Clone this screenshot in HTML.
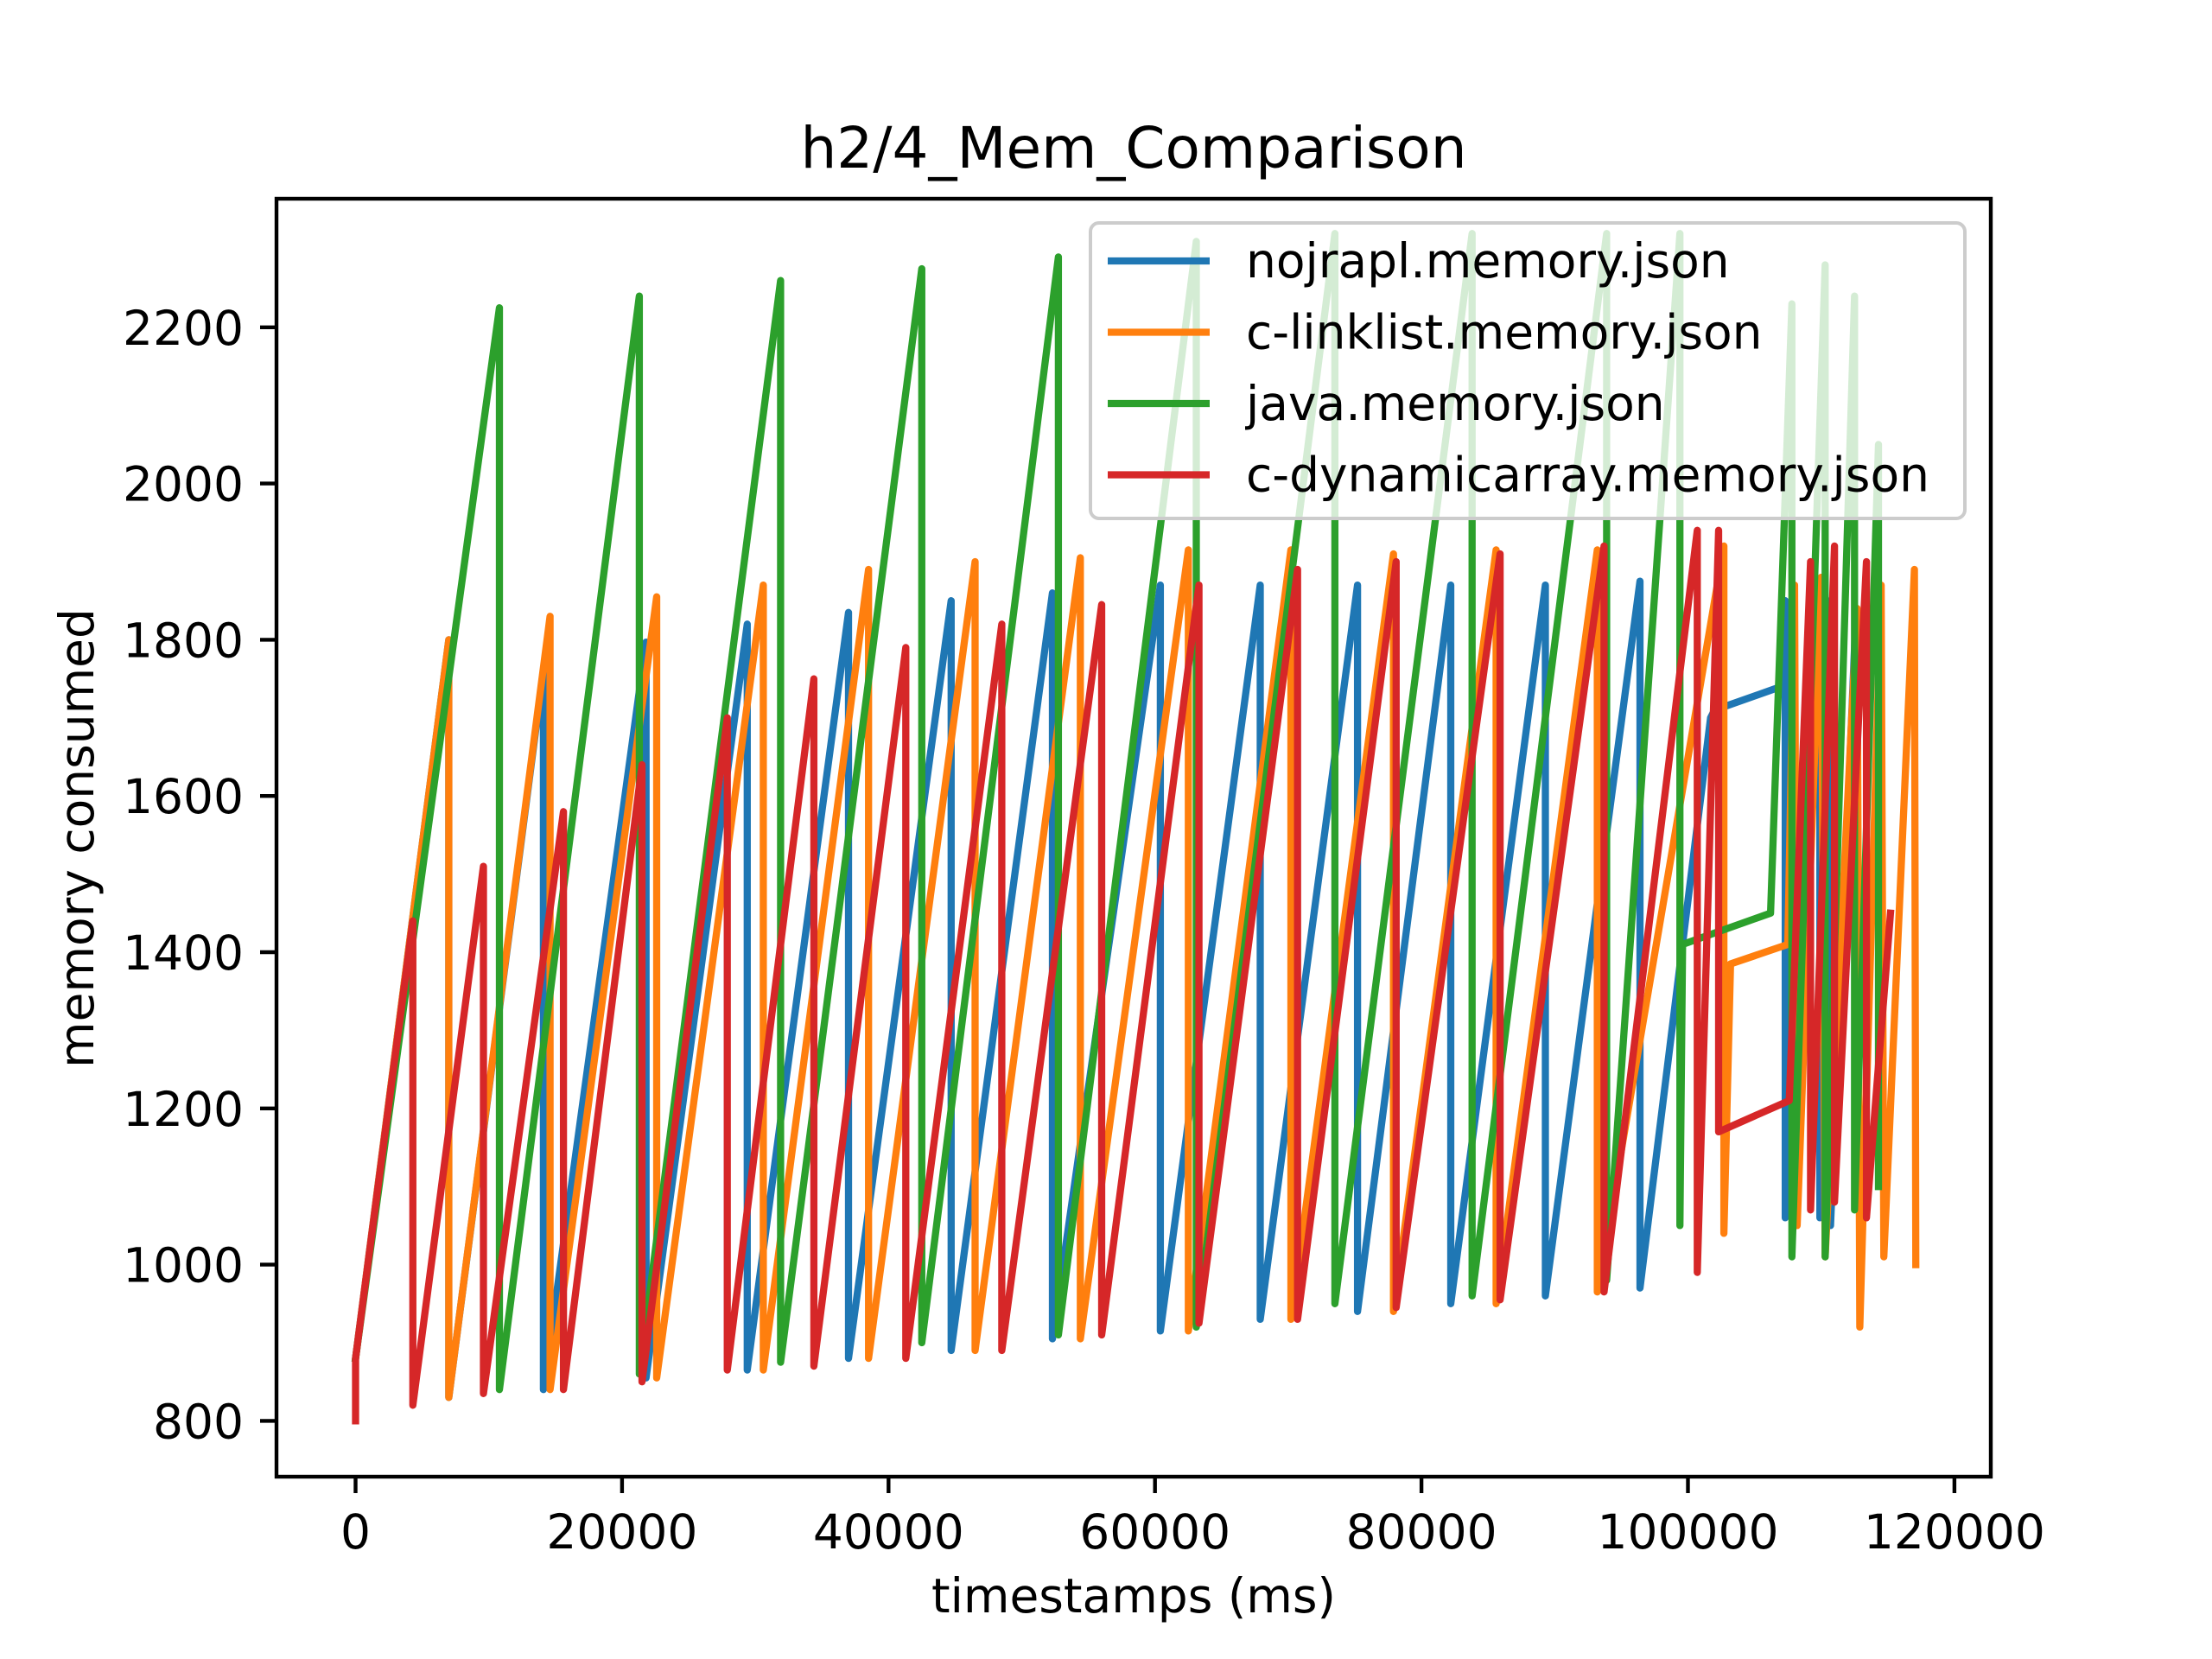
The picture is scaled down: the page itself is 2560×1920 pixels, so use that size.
<!DOCTYPE html>
<html><head><meta charset="utf-8"><style>
body{margin:0;background:#fff;}
svg{display:block;font-family:"DejaVu Sans","Liberation Sans",sans-serif;}
</style></head><body>
<svg id="chart" width="2560" height="1920" viewBox="0 0 2560 1920">
<defs><clipPath id="plotclip"><rect x="320" y="230" width="1984" height="1479"/></clipPath></defs>
<rect width="2560" height="1920" fill="#fff"/>
<text x="1312" y="194" font-size="66" text-anchor="middle">h2/4_Mem_Comparison</text>
<g id="series" clip-path="url(#plotclip)"></g>
<rect x="320" y="230" width="1984" height="1479" fill="none" stroke="#000" stroke-width="4.4"/>
<g id="xticks"></g>
<g id="yticks"></g>
<text x="1312" y="1866" font-size="55" text-anchor="middle">timestamps (ms)</text>
<text x="0" y="0" font-size="55" text-anchor="middle" transform="translate(108,970) rotate(-90)">memory consumed</text>
<g id="legend">
<rect x="1262" y="258" width="1012" height="342" rx="10" fill="#fff" fill-opacity="0.8" stroke="#ccc" stroke-width="4"/>
</g>
</svg>
<script>
const seriesNames = ["nojrapl.memory.json","c-linklist.memory.json","java.memory.json","c-dynamicarray.memory.json"];
const seriesColors = ["#1f77b4","#ff7f0e","#2ca02c","#d62728"];
const xTicks = [0,20000,40000,60000,80000,100000,120000];
const yTicks = [800,1000,1200,1400,1600,1800,2000,2200];
const nojrapl = [[0,880],[7000,1800],[7000,830],[14100,1760],[14100,840],[21800,1797],[21800,855],[29400,1820],[29400,865],[37000,1835],[37000,880],[44700,1850],[44700,890],[52300,1860],[52300,905],[60400,1870],[60400,915],[67900,1870],[67900,930],[75200,1870],[75200,940],[82200,1870],[82200,950],[89300,1870],[89300,960],[96400,1875],[96400,970],[101700,1700],[102000,1710],[107000,1740],[107300,1850],[107300,1060],[109900,1840],[109900,1060],[110700,1850],[110700,1050],[112600,1830],[112600,1150],[114200,1150]];
const clinklist = [[0,880],[7000,1800],[7000,830],[14600,1830],[14600,840],[22600,1855],[22600,855],[30600,1870],[30600,865],[38500,1890],[38500,880],[46500,1900],[46500,890],[54400,1905],[54400,905],[62500,1915],[62500,915],[70200,1915],[70200,930],[77900,1910],[77900,940],[85600,1915],[85600,950],[93200,1915],[93200,965],[102700,1920],[102700,1040],[103200,1385],[107500,1410],[108000,1870],[108200,1050],[110000,1880],[110300,1010],[112700,1840],[112900,920],[114500,1870],[114700,1010],[117000,1890],[117100,1000]];
const java = [[0,880],[10800,2225],[10800,840],[21300,2240],[21300,860],[31900,2260],[31900,875],[42500,2275],[42500,900],[52750,2290],[52750,910],[63100,2310],[63100,920],[73500,2320],[73500,950],[83800,2320],[83800,960],[93900,2320],[93900,980],[99400,2320],[99400,1050],[99600,1410],[106200,1450],[107800,2230],[107800,1010],[110300,2280],[110300,1010],[112500,2240],[112500,1070],[114300,2050],[114300,1100]];
const cdynamic = [[0,800],[0,880],[4300,1440],[4300,820],[9600,1510],[9600,835],[15600,1580],[15600,840],[21500,1640],[21500,850],[27900,1700],[27900,865],[34400,1750],[34400,870],[41300,1790],[41300,880],[48500,1820],[48500,890],[56000,1845],[56000,910],[63300,1870],[63300,925],[70700,1890],[70700,930],[78100,1900],[78100,945],[85900,1910],[85900,955],[93700,1920],[93700,965],[100700,1940],[100700,990],[102300,1940],[102300,1170],[107600,1210],[109200,1900],[109200,1070],[111000,1920],[111000,1080],[113400,1900],[113400,1060],[115200,1450]];
const allSeries = [nojrapl, clinklist, java, cdynamic];
const NS="http://www.w3.org/2000/svg";
function xs(t){return 411.5 + t/20000*308.4;}
function ys(v){return 1644.4 - (v-800)/200*180.8;}
const sg=document.getElementById('series');
allSeries.forEach((s,i)=>{
  const p=document.createElementNS(NS,'polyline');
  p.setAttribute('points',s.map(d=>xs(d[0]).toFixed(1)+','+ys(d[1]).toFixed(1)).join(' '));
  p.setAttribute('fill','none');p.setAttribute('stroke',seriesColors[i]);
  p.setAttribute('stroke-width','8.3');p.setAttribute('stroke-linejoin','round');p.setAttribute('stroke-linecap','square');
  
  
  sg.appendChild(p);
});
const xg=document.getElementById('xticks');
xTicks.forEach(t=>{
  const l=document.createElementNS(NS,'line');
  l.setAttribute('x1',xs(t));l.setAttribute('x2',xs(t));l.setAttribute('y1',1709);l.setAttribute('y2',1728);
  l.setAttribute('stroke','#000');l.setAttribute('stroke-width','4.4');
  
  
  xg.appendChild(l);
  const tx=document.createElementNS(NS,'text');
  tx.setAttribute('x',xs(t));tx.setAttribute('y',1792);tx.setAttribute('font-size','55');tx.setAttribute('text-anchor','middle');
  tx.textContent=t;
  
  
  xg.appendChild(tx);
});
const yg=document.getElementById('yticks');
yTicks.forEach(v=>{
  const l=document.createElementNS(NS,'line');
  l.setAttribute('x1',301);l.setAttribute('x2',320);l.setAttribute('y1',ys(v));l.setAttribute('y2',ys(v));
  l.setAttribute('stroke','#000');l.setAttribute('stroke-width','4.4');
  
  
  yg.appendChild(l);
  const tx=document.createElementNS(NS,'text');
  tx.setAttribute('x',282);tx.setAttribute('y',ys(v)+20);tx.setAttribute('font-size','55');tx.setAttribute('text-anchor','end');
  tx.textContent=v;
  
  
  yg.appendChild(tx);
});
const lg=document.getElementById('legend');
seriesNames.forEach((n,i)=>{
  const y=302+i*82.5;
  const l=document.createElementNS(NS,'line');
  l.setAttribute('x1',1282);l.setAttribute('x2',1400);l.setAttribute('y1',y);l.setAttribute('y2',y);
  l.setAttribute('stroke',seriesColors[i]);l.setAttribute('stroke-width','8.3');
  
  
  lg.appendChild(l);
  const tx=document.createElementNS(NS,'text');
  tx.setAttribute('x',1442);tx.setAttribute('y',y+19);tx.setAttribute('font-size','55');
  tx.textContent=n;
  
  
  lg.appendChild(tx);
});
</script>
</body></html>
